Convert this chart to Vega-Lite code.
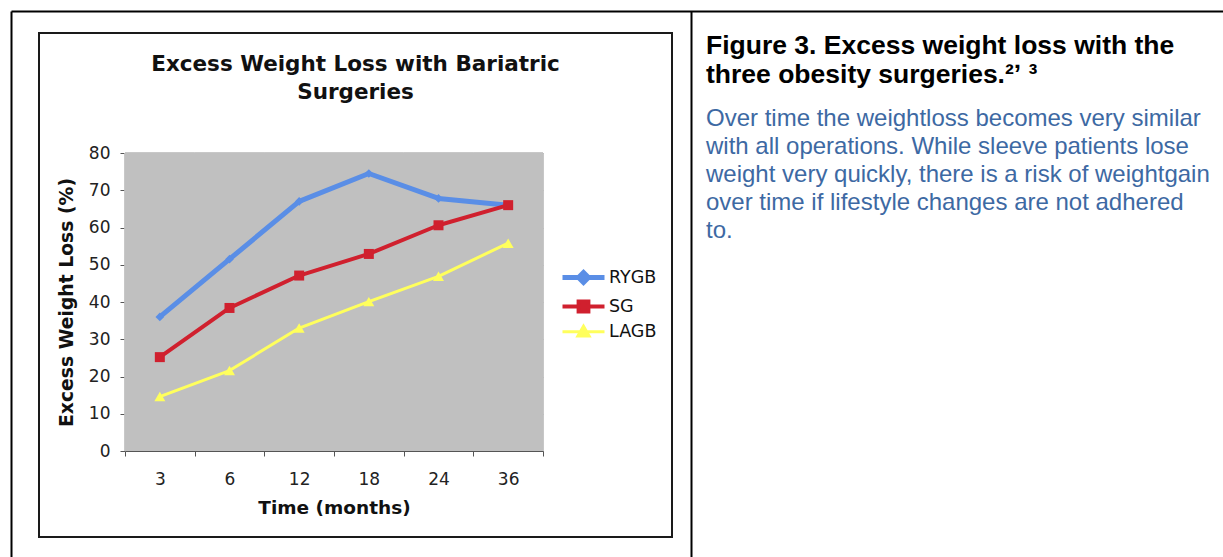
{
  "$schema": "https://vega.github.io/schema/vega-lite/v6.json",
  "background": "white",
  "padding": {"left": 10, "top": 10, "right": 0, "bottom": 0},
  "config": {
    "font": "DejaVu Sans",
    "axis": {"labelFont": "DejaVu Sans", "titleFont": "DejaVu Sans"}
  },
  "title": {
    "text": ["Figure 3. Excess weight loss with the", "three obesity surgeries.²ʼ ³"],
    "subtitle": [
      "Over time the weightloss becomes very similar",
      "with all operations. While sleeve patients lose",
      "weight very quickly, there is a risk of weightgain",
      "over time if lifestyle changes are not adhered",
      "to."
    ],
    "anchor": "start",
    "frame": "group",
    "dx": 667,
    "offset": -233,
    "font": "Liberation Sans",
    "fontSize": 26.5,
    "fontWeight": "bold",
    "color": "#000000",
    "lineHeight": 29,
    "subtitleFont": "Liberation Sans",
    "subtitleFontSize": 24,
    "subtitleFontWeight": "normal",
    "subtitleColor": "#3d69a3",
    "subtitleLineHeight": 28,
    "subtitlePadding": 19
  },
  "vconcat": [
    {
      "width": 633,
      "height": 504,
      "view": {"stroke": "#1a1a1a", "strokeWidth": 2, "fill": "white"},
      "title": {
        "text": ["Excess Weight Loss with Bariatric", "Surgeries"],
        "anchor": "middle",
        "frame": "group",
        "offset": -92,
        "font": "DejaVu Sans",
        "fontSize": 21.5,
        "fontWeight": "bold",
        "color": "#111111",
        "lineHeight": 28
      },
      "data": {
        "values": [
          {"month": 3, "series": "RYGB", "loss": 36.0},
          {"month": 6, "series": "RYGB", "loss": 51.5},
          {"month": 12, "series": "RYGB", "loss": 67.0},
          {"month": 18, "series": "RYGB", "loss": 74.5},
          {"month": 24, "series": "RYGB", "loss": 67.8},
          {"month": 36, "series": "RYGB", "loss": 66.0},
          {"month": 3, "series": "SG", "loss": 25.2},
          {"month": 6, "series": "SG", "loss": 38.4},
          {"month": 12, "series": "SG", "loss": 47.1},
          {"month": 18, "series": "SG", "loss": 52.9},
          {"month": 24, "series": "SG", "loss": 60.6},
          {"month": 36, "series": "SG", "loss": 66.0},
          {"month": 3, "series": "LAGB", "loss": 14.6},
          {"month": 6, "series": "LAGB", "loss": 21.6},
          {"month": 12, "series": "LAGB", "loss": 33.0},
          {"month": 18, "series": "LAGB", "loss": 40.1},
          {"month": 24, "series": "LAGB", "loss": 46.9},
          {"month": 36, "series": "LAGB", "loss": 55.8}
        ]
      },
      "resolve": {
        "scale": {"x": "independent", "y": "independent"},
        "axis": {"x": "independent", "y": "independent"}
      },
      "layer": [
        {
          "encoding": {
            "x": {
              "field": "month",
              "type": "ordinal",
              "scale": {"domain": [3, 6, 12, 18, 24, 36], "range": [86, 504], "paddingInner": 0, "paddingOuter": 0},
              "axis": {
                "orient": "bottom",
                "offset": -86,
                "tickBand": "extent",
                "labelAngle": 0,
                "tickSize": 5,
                "tickColor": "#555555",
                "domainColor": "#555555",
                "labelFontSize": 17,
                "labelColor": "#222222",
                "labelPadding": 15,
                "title": "Time (months)",
                "titleFontSize": 18.5,
                "titleFontWeight": "bold",
                "titleColor": "#111111",
                "titlePadding": 11
              }
            },
            "y": {
              "field": "loss",
              "type": "quantitative",
              "scale": {"domain": [0, 80], "range": [418, 120], "nice": false},
              "axis": {
                "orient": "left",
                "offset": -86,
                "values": [0, 10, 20, 30, 40, 50, 60, 70, 80],
                "grid": true,
                "gridColor": "#7a7a7a",
                "gridWidth": 1,
                "tickSize": 5,
                "tickColor": "#555555",
                "domainColor": "#555555",
                "labelFontSize": 17,
                "labelColor": "#222222",
                "labelPadding": 10,
                "title": "Excess Weight Loss (%)",
                "titleFontSize": 18.8,
                "titleFontWeight": "bold",
                "titleColor": "#111111",
                "titlePadding": 12
              }
            }
          },
          "layer": [
            {
              "mark": {"type": "rect", "fill": "#c0c0c0", "stroke": "#c0c0c0", "strokeWidth": 1},
              "encoding": {
                "y": {"datum": 0, "type": "quantitative"},
                "y2": {"datum": 80}
              }
            },
            {
              "data": {"values": [{"edge": "right"}]},
              "mark": {"type": "rule", "color": "#808080", "strokeWidth": 1},
              "encoding": {
                "x": {"datum": 36, "type": "ordinal", "bandPosition": 1},
                "y": {"datum": 0, "type": "quantitative"},
                "y2": {"datum": 80}
              }
            },
            {
              "mark": {"type": "line", "strokeJoin": "round"},
              "encoding": {
                "color": {
                  "field": "series",
                  "type": "nominal",
                  "scale": {"domain": ["RYGB", "SG", "LAGB"], "range": ["#5a8ee6", "#d0202e", "#ffff5c"]},
                  "legend": {
                    "orient": "none",
                    "legendX": 535,
                    "legendY": 235,
                    "title": null,
                    "padding": 0,
                    "labelFont": "DejaVu Sans",
                    "labelFontSize": 17.5,
                    "labelColor": "#111111",
                    "symbolSize": 196,
                    "symbolStrokeWidth": 3,
                    "labelOffset": 16,
                    "rowPadding": 0.5,
                    "encode": {
                      "symbols": {
                        "update": {
                          "shape": {"signal": "datum.value === 'RYGB' ? 'M-3,0H3M0,-0.7L0.7,0L0,0.7L-0.7,0Z' : datum.value === 'SG' ? 'M-3,0H3M-0.7,-0.7H0.7V0.7H-0.7Z' : 'M-3,0H3M0,-0.8L0.8,0.6H-0.8Z'"},
                          "fill": {"scale": "color", "field": "value"},
                          "stroke": {"scale": "color", "field": "value"},
                          "opacity": {"value": 1}
                        }
                      }
                    }
                  }
                },
                "strokeWidth": {
                  "field": "series",
                  "type": "nominal",
                  "scale": {"domain": ["RYGB", "SG", "LAGB"], "range": [5, 3, 3]},
                  "legend": null
                }
              }
            },
            {
              "transform": [{"filter": {"field": "series", "equal": "RYGB"}}],
              "mark": {"type": "point", "shape": "diamond", "filled": true, "size": 75, "opacity": 1},
              "encoding": {"color": {"field": "series", "type": "nominal"}}
            },
            {
              "transform": [{"filter": {"field": "series", "equal": "SG"}}],
              "mark": {"type": "point", "shape": "square", "filled": true, "size": 100, "opacity": 1},
              "encoding": {"color": {"field": "series", "type": "nominal"}}
            },
            {
              "transform": [{"filter": {"field": "series", "equal": "LAGB"}}],
              "mark": {"type": "point", "shape": "triangle-up", "filled": true, "size": 120, "opacity": 1},
              "encoding": {"color": {"field": "series", "type": "nominal"}}
            }
          ]
        },
        {
          "mark": {"type": "point", "opacity": 0},
          "encoding": {
            "x": {
              "field": "month",
              "type": "ordinal",
              "scale": {"domain": [3, 6, 12, 18, 24, 36], "range": [-28, 1250]},
              "axis": {"orient": "top", "offset": 22, "domain": true, "domainColor": "#000000", "domainWidth": 2, "ticks": false, "labels": false, "grid": false, "title": null}
            },
            "y": {
              "field": "loss",
              "type": "quantitative",
              "scale": {"domain": [0, 80], "range": [534, -22], "nice": false},
              "axis": {"orient": "left", "offset": 28, "domain": true, "domainColor": "#000000", "domainWidth": 2, "ticks": false, "labels": false, "grid": false, "title": null}
            }
          }
        },
        {
          "mark": {"type": "point", "opacity": 0},
          "encoding": {
            "y": {
              "field": "loss",
              "type": "quantitative",
              "scale": {"domain": [0, 80], "range": [534, -22], "nice": false},
              "axis": {"orient": "right", "offset": 19, "domain": true, "domainColor": "#000000", "domainWidth": 2, "ticks": false, "labels": false, "grid": false, "title": null}
            }
          }
        }
      ]
    }
  ]
}
